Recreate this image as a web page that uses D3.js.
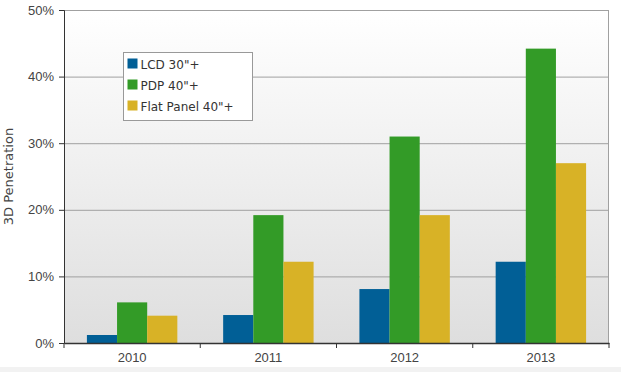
<!DOCTYPE html>
<html lang="en">
<head>
<meta charset="UTF-8">
<title>3D Penetration</title>
<script src="https://d3js.org/d3.v7.min.js"></script>
<style>
  body { margin: 0; background: #fff; }
  svg { display: block; font-family: "DejaVu Sans", Verdana, sans-serif; }
</style>
</head>
<body>
<div id="chart"></div>
<script>
// Data
var years = ["2010", "2011", "2012", "2013"];
var seriesNames = ["LCD 30\"+", "PDP 40\"+", "Flat Panel 40\"+"];
var lcd = [1.2, 4.2, 8.1, 12.2];
var pdp = [6.1, 19.2, 31, 44.2];
var flat = [4.1, 12.2, 19.2, 27];
var yTicks = [0, 10, 20, 30, 40, 50];
var colors = ["#015f96", "#339b27", "#d8b226"];

var series = [lcd, pdp, flat];

var W = 621, H = 372;
var margin = { top: 10, right: 12, bottom: 29, left: 64 };
var width = W - margin.left - margin.right,
    height = H - margin.top - margin.bottom;

var svg = d3.select("#chart").append("svg")
    .attr("width", W).attr("height", H);

var defs = svg.append("defs");
var grad = defs.append("linearGradient")
    .attr("id", "bg").attr("x1", 0).attr("y1", 0).attr("x2", 0).attr("y2", 1);
grad.append("stop").attr("offset", "0%").attr("stop-color", "#ffffff");
grad.append("stop").attr("offset", "100%").attr("stop-color", "#dedede");

// bottom strip
svg.append("rect").attr("x", 0).attr("y", 367).attr("width", W).attr("height", 5)
    .attr("fill", "#f2f2f2");

var g = svg.append("g")
    .attr("transform", "translate(" + margin.left + "," + margin.top + ")");

var x0 = d3.scaleBand().domain(years).range([0, width]).paddingInner(0).paddingOuter(0);
var x1 = d3.scaleBand().domain(d3.range(series.length))
    .range([0, x0.bandwidth()]).paddingOuter(0.76).paddingInner(0);
var y = d3.scaleLinear().domain([0, 50]).range([height, 0]);

g.append("rect").attr("width", width).attr("height", height).attr("fill", "url(#bg)");

// gridlines
g.selectAll(".grid").data(yTicks.slice(1)).enter().append("line")
    .attr("x1", 0).attr("x2", width)
    .attr("y1", function(d) { return y(d) + 0.5; })
    .attr("y2", function(d) { return y(d) + 0.5; })
    .attr("stroke", "#a0a0a0").attr("stroke-width", 1);

// right border
g.append("line").attr("x1", width - 0.5).attr("x2", width - 0.5)
    .attr("y1", 0).attr("y2", height).attr("stroke", "#a0a0a0");

// bars
years.forEach(function(yr, i) {
    series.forEach(function(s, j) {
        g.append("rect")
            .attr("x", x0(yr) + x1(j))
            .attr("y", y(s[i]))
            .attr("width", x1.bandwidth())
            .attr("height", height - y(s[i]))
            .attr("fill", colors[j]);
    });
});

// y axis
var yAxis = g.append("g")
    .call(d3.axisLeft(y).tickValues(yTicks).tickSize(5).tickPadding(5)
        .tickFormat(function(d) { return d + "%"; }));
yAxis.select(".domain").attr("stroke", "#333");
yAxis.selectAll(".tick line").attr("stroke", "#333");
yAxis.selectAll("text").attr("fill", "#444").style("font-size", "13px");

// x axis
var xAxis = g.append("g")
    .attr("transform", "translate(0," + height + ")")
    .call(d3.axisBottom(x0).tickSize(0).tickPadding(10));
xAxis.select(".domain").attr("stroke", "#333").attr("stroke-width", 1.5);
xAxis.selectAll("text").attr("fill", "#444").style("font-size", "13px");
// category boundary ticks
g.selectAll(".xt").data(d3.range(years.length + 1)).enter().append("line")
    .attr("x1", function(d) { return d * x0.step(); })
    .attr("x2", function(d) { return d * x0.step(); })
    .attr("y1", height).attr("y2", height + 5)
    .attr("stroke", "#333");

// y axis title
svg.append("text")
    .attr("transform", "translate(13," + (margin.top + height / 2) + ") rotate(-90)")
    .attr("text-anchor", "middle")
    .attr("fill", "#444")
    .style("font-size", "13px")
    .text("3D Penetration");

// legend
var lg = svg.append("g").attr("transform", "translate(123.5,52.5)");
lg.append("rect").attr("width", 129).attr("height", 68)
    .attr("fill", "#fff").attr("stroke", "#999");
seriesNames.forEach(function(name, j) {
    var row = lg.append("g").attr("transform", "translate(4," + (6 + j * 21) + ")");
    row.append("rect").attr("width", 10).attr("height", 10).attr("fill", colors[j]);
    row.append("text").attr("x", 13).attr("y", 10)
        .attr("fill", "#333").style("font-size", "12px")
        .text(name);
});
</script>
</body>
</html>
